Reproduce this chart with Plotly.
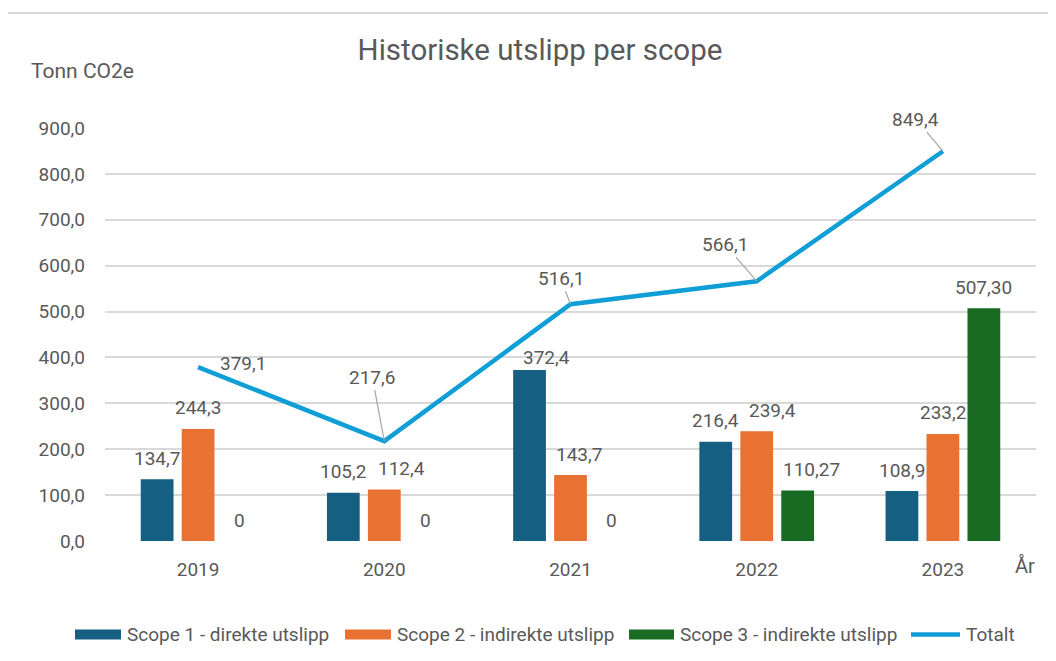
import plotly.graph_objects as go

# Data
years = ['2019', '2020', '2021', '2022', '2023']
scope1 = [134.7, 105.2, 372.4, 216.4, 108.9]
scope2 = [244.3, 112.4, 143.7, 239.4, 233.2]
scope3 = [0, 0, 0, 110.27, 507.30]
totalt = [379.1, 217.6, 516.1, 566.1, 849.4]

series_names = [
    'Scope 1 - direkte utslipp',
    'Scope 2 - indirekte utslipp',
    'Scope 3 - indirekte utslipp',
    'Totalt',
]

COLORS = ['#156082', '#E97132', '#196B24', '#0F9ED5']
TEXT = '#595959'
GRID = '#D9D9D9'
FONT = 'Roboto'

# the page body has an 8px margin, so the figure is drawn a bit smaller
OFF = 8
W, H = 1056 - OFF, 661 - OFF
L, R, T, B = 105 - OFF, 20, 128 - OFF, 120
PW, PH = W - L - R, H - T - B


def px(x):
    # reference-screen pixel -> paper x
    return (x - OFF - L) / PW


def py(y):
    # reference-screen pixel -> paper y
    return (H - B - (y - OFF)) / PH


def fmt(v, d):
    if v == 0:
        return '0'
    return f'{v:.{d}f}'.replace('.', ',')


fig = go.Figure()

bars = [(scope1, 1), (scope2, 1), (scope3, 2)]
for i, (vals, dec) in enumerate(bars):
    fig.add_trace(go.Bar(
        x=years, y=vals, name=series_names[i],
        marker=dict(color=COLORS[i], line=dict(width=0)),
        showlegend=False,
    ))

fig.add_trace(go.Scatter(
    x=years, y=totalt, name=series_names[3], mode='lines',
    line=dict(color=COLORS[3], width=4.5),
    showlegend=False,
))

annotations = []

# bar data labels, centred over each bar in the group
# (category axis: annotation x is the category's serial number)
bar_shift = [-41, 0, 41]
# a few labels were moved aside in the original to avoid collisions
label_nudge = {(0, 2): (17, -8), (1, 1): (17, 0), (1, 2): (8, 0),
               (1, 3): (16, 0), (2, 3): (14, 0)}
for i, (vals, dec) in enumerate(bars):
    for k, v in enumerate(vals):
        dx, dy = label_nudge.get((i, k), (0, 0))
        annotations.append(dict(
            x=k, y=v, text=fmt(v, dec), showarrow=False,
            xshift=bar_shift[i] + dx, yshift=21 + dy,
            font=dict(size=19, color=TEXT, family=FONT),
        ))

# line data labels with leader lines (pixel offsets of label from point)
line_offsets = [(45, -4, False), (-12, -64, True), (-10, -26, True),
                (-32, -37, True), (-27, -32, True)]
for k, (v, (ax, ay, arrow)) in enumerate(zip(totalt, line_offsets)):
    if arrow:
        annotations.append(dict(
            x=k, y=v, text=fmt(v, 1), showarrow=True,
            ax=ax, ay=ay, arrowhead=0, arrowwidth=1.2,
            arrowcolor='#A6A6A6', standoff=0,
            font=dict(size=19, color=TEXT, family=FONT),
        ))
    else:
        annotations.append(dict(
            x=k, y=v, text=fmt(v, 1), showarrow=False,
            xshift=ax, yshift=-ay,
            font=dict(size=19, color=TEXT, family=FONT),
        ))

# axis titles
annotations.append(dict(
    xref='paper', yref='paper', x=px(29), y=py(71), xanchor='left',
    yanchor='middle', text='Tonn CO2e', showarrow=False,
    font=dict(size=21, color=TEXT, family=FONT),
))
annotations.append(dict(
    xref='paper', yref='paper', x=px(1025), y=py(566), xanchor='center',
    yanchor='middle', text='År', showarrow=False,
    font=dict(size=20, color=TEXT, family=FONT),
))

shapes = [
    # outer chart border
    dict(type='rect', xref='paper', yref='paper',
         x0=px(7), x1=px(1070), y0=py(13), y1=py(680),
         line=dict(color='#D9D9D9', width=2), fillcolor='rgba(0,0,0,0)',
         layer='below'),
]

# custom legend (wide swatches like the original)
leg_y = 634.5
swatches = [(75, 121), (345, 391), (629, 674), (911, 960)]
for i, (x0, x1) in enumerate(swatches):
    if i < 3:
        shapes.append(dict(
            type='rect', xref='paper', yref='paper',
            x0=px(x0), x1=px(x1), y0=py(leg_y + 5), y1=py(leg_y - 5),
            fillcolor=COLORS[i], line=dict(width=0),
        ))
    else:
        shapes.append(dict(
            type='line', xref='paper', yref='paper',
            x0=px(x0), x1=px(x1), y0=py(leg_y), y1=py(leg_y),
            line=dict(color=COLORS[i], width=4.5),
        ))
    annotations.append(dict(
        xref='paper', yref='paper', x=px(x1 + 4), y=py(leg_y),
        xanchor='left', yanchor='middle', text=series_names[i],
        showarrow=False, font=dict(size=19, color=TEXT, family=FONT),
    ))

fig.update_layout(
    width=W, height=H,
    margin=dict(l=L, r=R, t=T, b=B),
    paper_bgcolor='white', plot_bgcolor='white',
    separators=',.',
    barmode='group', bargap=0.34, bargroupgap=0.2,
    font=dict(family=FONT, size=19, color=TEXT),
    title=dict(
        text='Historiske utslipp per scope',
        x=(540 - OFF) / W, xanchor='center', xref='container',
        y=1 - (50 - OFF) / H, yanchor='middle',
        font=dict(size=29.5, color=TEXT, family=FONT),
    ),
    xaxis=dict(
        type='category', range=[-0.5, 4.5], autorange=False,
        showgrid=False, showline=False, ticks='',
        tickfont=dict(size=19, color=TEXT), ticklabelstandoff=15,
    ),
    yaxis=dict(
        range=[0, 900], autorange=False, dtick=100, tickformat='.1f',
        showgrid=True, gridcolor=GRID, gridwidth=1.5,
        zeroline=False, showline=False, ticks='',
        tickfont=dict(size=19, color=TEXT), ticklabelstandoff=19,
    ),
    annotations=annotations,
    shapes=shapes,
    showlegend=False,
)

fig.write_html('out.html')
